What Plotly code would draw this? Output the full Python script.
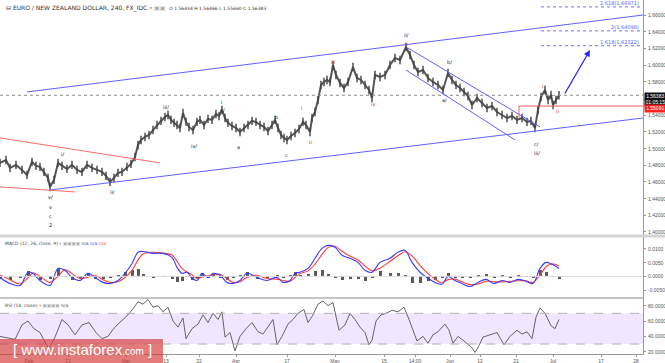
import plotly.graph_objects as go

W, H = 665, 363
PLOT_R = 643  # right edge of panes (px)

# ---------------- data ----------------
bar = [0, 6, 10, 16, 22, 27, 32, 36, 40, 44, 48, 50, 54, 58, 62, 67, 72, 77, 82, 87, 92, 97, 102, 106, 110, 114,
       118, 122, 127, 131, 135, 138, 141, 145, 149, 153, 157, 161, 165, 168, 171, 174, 177, 180, 183, 186, 189,
       193, 197, 200, 204, 208, 212, 216, 219, 222, 225, 228, 232, 236, 240, 244, 248, 252, 256, 260, 264, 268,
       272, 275, 278, 281, 284, 287, 291, 295, 299, 303, 306, 310, 312, 315, 318, 321, 324, 327, 330, 333, 336,
       340, 344, 348, 353, 357, 361, 365, 369, 372, 375, 380, 385, 390, 395, 400, 406, 410, 414, 418, 423, 428,
       433, 438, 443, 448, 452, 456, 460, 464, 468, 472, 477, 482, 487, 492, 497, 502, 507, 512, 517, 522, 527,
       531, 535, 538, 541, 545, 548, 551, 553, 556, 559]
close = [1.4828, 1.4863, 1.4768, 1.4804, 1.4744, 1.4684, 1.4840, 1.4792, 1.4780, 1.4720, 1.4648, 1.4540, 1.4624,
         1.4828, 1.4792, 1.4756, 1.4804, 1.4744, 1.4720, 1.4804, 1.4768, 1.4744, 1.4720, 1.4672, 1.4600, 1.4648,
         1.4708, 1.4720, 1.4780, 1.4816, 1.4899, 1.5043, 1.5103, 1.5139, 1.5163, 1.5223, 1.5283, 1.5331, 1.5378,
         1.5402, 1.5343, 1.5307, 1.5283, 1.5247, 1.5426, 1.5319, 1.5259, 1.5223, 1.5319, 1.5343, 1.5283, 1.5355,
         1.5343, 1.5414, 1.5390, 1.5462, 1.5366, 1.5307, 1.5271, 1.5247, 1.5199, 1.5247, 1.5283, 1.5331, 1.5319,
         1.5283, 1.5259, 1.5211, 1.5283, 1.5343, 1.5247, 1.5163, 1.5127, 1.5103, 1.5151, 1.5187, 1.5235, 1.5319,
         1.5283, 1.5199, 1.5366, 1.5438, 1.5582, 1.5762, 1.5798, 1.5822, 1.5798, 1.6001, 1.5881, 1.5786, 1.5726,
         1.5798, 1.5977, 1.5846, 1.5822, 1.5762, 1.5702, 1.5606, 1.5881, 1.5857, 1.5881, 1.6001, 1.6085, 1.6061,
         1.6217, 1.6121, 1.6001, 1.5917, 1.5941, 1.5846, 1.5798, 1.5762, 1.5702, 1.5905, 1.5822, 1.5762, 1.5726,
         1.5678, 1.5630, 1.5522, 1.5606, 1.5546, 1.5486, 1.5510, 1.5438, 1.5402, 1.5366, 1.5390, 1.5343, 1.5366,
         1.5319, 1.5331, 1.5247, 1.5462, 1.5618, 1.5702, 1.5582, 1.5642, 1.5522, 1.5582, 1.56383]

macd_bar = [0, 10, 20, 28, 33, 40, 50, 58, 65, 72, 80, 88, 95, 103, 110, 118, 125, 132, 138, 143, 153, 163, 172,
            177, 182, 187, 192, 197, 202, 208, 213, 220, 227, 233, 240, 247, 257, 267, 277, 283, 290, 295, 300,
            308, 315, 322, 328, 335, 342, 350, 358, 365, 372, 380, 390, 398, 405, 412, 420, 428, 435, 442, 448,
            455, 462, 470, 478, 486, 494, 502, 510, 518, 526, 533, 540, 546, 552, 559]
macd = [-0.0004, -0.0026, -0.0033, 0.0015, 0.0011, -0.0015, -0.0033, 0.0029, 0.0022, -0.0004, -0.0015, 0.0011,
        -0.0004, -0.0022, -0.0026, -0.0015, 0.0011, 0.0047, 0.0088, 0.0091, 0.0084, 0.0084, 0.0069, 0.0033, 0.0011,
        0.0015, -0.0007, -0.0015, 0.0011, -0.0004, 0.0011, 0.0004, -0.0022, -0.0026, -0.0015, 0.0011, -0.0004,
        -0.0015, -0.0004, -0.0022, -0.0015, 0.0011, 0.0015, 0.0029, 0.0066, 0.0102, 0.0113, 0.0106, 0.0077, 0.0066,
        0.0051, 0.0022, 0.0015, 0.0051, 0.0066, 0.0088, 0.0095, 0.0051, 0.0015, -0.0007, -0.0022, -0.0029, 0.0000,
        -0.0015, -0.0026, -0.0037, -0.0022, -0.0011, -0.0026, -0.0015, -0.0022, -0.0011, -0.0018, -0.0026, 0.0029,
        0.0051, 0.0044, 0.0029]
signal = [0.0005, -0.0012, -0.0028, -0.0005, 0.0012, 0.0000, -0.0022, 0.0000, 0.0024, 0.0010, -0.0008, -0.0003,
          0.0004, -0.0012, -0.0022, -0.0020, -0.0004, 0.0022, 0.0060, 0.0082, 0.0088, 0.0085, 0.0078, 0.0055, 0.0028,
          0.0016, 0.0006, -0.0008, -0.0003, 0.0002, 0.0004, 0.0008, -0.0008, -0.0022, -0.0020, -0.0004, 0.0004,
          -0.0008, -0.0010, -0.0015, -0.0018, -0.0004, 0.0010, 0.0020, 0.0045, 0.0080, 0.0105, 0.0110, 0.0092, 0.0074,
          0.0060, 0.0038, 0.0020, 0.0030, 0.0055, 0.0075, 0.0090, 0.0075, 0.0040, 0.0010, -0.0010, -0.0024, -0.0012,
          -0.0010, -0.0020, -0.0030, -0.0028, -0.0018, -0.0020, -0.0020, -0.0018, -0.0016, -0.0016, -0.0022, 0.0005,
          0.0035, 0.0046, 0.0038]

rsi_bar = [0, 8, 15, 22, 28, 34, 40, 46, 49, 55, 62, 68, 75, 82, 89, 96, 102, 108, 113, 118, 123, 128, 133, 138,
           143, 148, 153, 158, 163, 168, 173, 178, 183, 186, 192, 198, 203, 208, 213, 218, 222, 225, 230, 235, 240,
           246, 252, 258, 263, 268, 273, 277, 282, 288, 293, 298, 304, 308, 313, 318, 323, 328, 333, 339, 345, 350,
           355, 360, 365, 369, 372, 376, 381, 386, 392, 398, 404, 409, 414, 417, 423, 428, 433, 438, 445, 449, 453,
           458, 463, 468, 472, 475, 479, 483, 490, 497, 504, 510, 517, 522, 527, 532, 536, 540, 545, 551, 555, 559]
rsi = [40, 38, 36, 55, 60, 50, 45, 30, 24, 39, 62, 55, 42, 55, 58, 45, 37, 40, 49, 56, 62, 68, 76, 85, 82, 88, 78,
       80, 72, 78, 60, 52, 64, 37, 50, 56, 68, 58, 70, 62, 72, 39, 45, 21, 40, 50, 58, 46, 43, 52, 62, 29, 40, 56,
       62, 70, 75, 58, 68, 82, 86, 80, 84, 48, 55, 70, 62, 52, 45, 29, 35, 60, 68, 70, 74, 72, 78, 62, 45, 34, 40,
       31, 42, 46, 56, 48, 31, 40, 35, 29, 25, 19, 28, 39, 42, 45, 29, 40, 48, 43, 46, 37, 65, 77, 70, 54, 50, 62]

tick_pos = [29, 68, 126, 166, 199, 236, 287, 335, 384, 415, 450, 480, 516, 553, 601, 636]
tick_txt = ["Feb", "13", "Mar", "13", "22", "Apr", "17", "May", "15", "14:00", "Jun", "12", "21", "Jul", "17", "28"]

price_ticks = [1.40, 1.42, 1.44, 1.46, 1.48, 1.50, 1.52, 1.54, 1.58, 1.60, 1.62, 1.64, 1.66]
macd_ticks = [-0.005, 0.0, 0.005, 0.01]
rsi_ticks = [20, 40, 60, 80]

last_price = 1.56383
red_level = 1.55091
fib_levels = [1.66971, 1.64098, 1.62322]
fib_names = ["2.618(1.66971)", "2(1.64098)", "1.618(1.62322)"]

# trendlines: (bar0, price0, bar1, price1)
blue_lines = [(27, 1.5678, 643, 1.6600), (50, 1.4504, 643, 1.5366),
              (408, 1.6205, 540, 1.5259), (406, 1.5941, 515, 1.5103)]
red_lines = [(0, 1.5127, 160, 1.4828), (0, 1.4540, 75, 1.4480)]
arrow = (564, 1.5642, 590, 1.6181)

# wave labels: (bar, price, text, colour-key)
labels = [(50, 1.4420, "v/", "k"), (50, 1.4300, "v", "k"), (50, 1.4192, "c", "k"), (50, 1.4085, "2", "k"),
          (62, 1.4935, "i/", "k"), (112, 1.4480, "ii/", "k"), (166, 1.5498, "iii/", "k"),
          (194, 1.5031, "iv/", "k"), (221, 1.5558, "i", "k"), (222, 1.5462, "v/", "k"),
          (238, 1.5019, "a", "k"), (276, 1.5379, "b", "k"), (286, 1.4924, "c", "k"),
          (301, 1.5486, "i", "r"), (310, 1.5079, "ii", "r"), (333, 1.6037, "iii", "r"),
          (373, 1.5534, "iv", "r"), (406, 1.6360, "ii/", "k"), (406, 1.6253, "v", "r"),
          (449, 1.6037, "b/", "k"), (444, 1.5582, "a/", "k"), (536, 1.5055, "c/", "k"),
          (537, 1.4948, "iii/", "k"), (542, 1.5749, "i", "r"), (557, 1.5450, "ii", "r")]

# ---------------- layout helpers ----------------
def py(px):  # paper y from pixel row
    return 1 - px / H

XD = PLOT_R / W
main_dom = [py(236), 1.0]
macd_dom = [py(298), py(236)]
rsi_dom = [py(354), py(298)]
MAIN_RNG = [1.3952, 1.678]
MACD_RNG = [-0.0079, 0.01474]
RSI_RNG = [17, 90]

fig = go.Figure()

fig.add_trace(go.Scatter(x=bar, y=close, mode="lines", line=dict(color="#555555", width=2.0),
                         xaxis="x", yaxis="y", hoverinfo="skip"))
fig.add_trace(go.Scatter(x=bar, y=close, mode="markers",
                         marker=dict(symbol="line-ns", size=6, line=dict(color="#444", width=1.4)),
                         xaxis="x", yaxis="y", hoverinfo="skip"))

hist = [m - s for m, s in zip(macd, signal)]
fig.add_trace(go.Bar(x=macd_bar, y=hist, marker=dict(color="#5a5a5a", line=dict(width=0)), width=3,
                     xaxis="x", yaxis="y2"))
fig.add_trace(go.Scatter(x=macd_bar, y=signal, mode="lines", line=dict(color="#ff3b3b", width=1.1, shape="spline"),
                         xaxis="x", yaxis="y2"))
fig.add_trace(go.Scatter(x=macd_bar, y=macd, mode="lines", line=dict(color="#3b3bff", width=1.1, shape="spline"),
                         xaxis="x", yaxis="y2"))
fig.add_trace(go.Scatter(x=rsi_bar, y=rsi, mode="lines", line=dict(color="#555555", width=0.9),
                         xaxis="x", yaxis="y3"))

shapes = []
shapes.append(dict(type="line", xref="x", yref="y", x0=0, x1=PLOT_R, y0=last_price, y1=last_price,
                   line=dict(color="#8a8a8a", width=1, dash="dot")))
shapes.append(dict(type="line", xref="x", yref="y", x0=519, x1=PLOT_R, y0=red_level, y1=red_level,
                   line=dict(color="#ff5a5a", width=1)))
shapes.append(dict(type="line", xref="x", yref="y", x0=519, x1=519, y0=red_level, y1=1.5370,
                   line=dict(color="#ff5a5a", width=1)))
for lv in fib_levels:
    shapes.append(dict(type="line", xref="x", yref="y", x0=541, x1=PLOT_R, y0=lv, y1=lv,
                       line=dict(color="#7070ff", width=1, dash="dot")))
for (a0, p0, a1, p1) in blue_lines:
    shapes.append(dict(type="line", xref="x", yref="y", x0=a0, x1=a1, y0=p0, y1=p1,
                       line=dict(color="#6060ff", width=1)))
for (a0, p0, a1, p1) in red_lines:
    shapes.append(dict(type="line", xref="x", yref="y", x0=a0, x1=a1, y0=p0, y1=p1,
                       line=dict(color="#ff6b6b", width=1)))
shapes.append(dict(type="rect", xref="x", yref="y3", x0=0, x1=PLOT_R, y0=30, y1=70,
                   fillcolor="rgba(225,200,255,0.45)", line=dict(width=0), layer="below"))
for lv in (30, 70):
    shapes.append(dict(type="line", xref="x", yref="y3", x0=0, x1=PLOT_R, y0=lv, y1=lv,
                       line=dict(color="#b0b0b0", width=1, dash="dash")))
shapes.append(dict(type="line", xref="x", yref="y2", x0=0, x1=PLOT_R, y0=0, y1=0,
                   line=dict(color="#dddddd", width=1)))
shapes.append(dict(type="line", xref="paper", yref="paper", x0=0, x1=1, y0=py(236), y1=py(236),
                   line=dict(color="#d4d4d4", width=3)))
shapes.append(dict(type="line", xref="paper", yref="paper", x0=0, x1=XD, y0=py(298), y1=py(298),
                   line=dict(color="#8c8c8c", width=1)))
shapes.append(dict(type="rect", xref="paper", yref="paper", x0=0, x1=163 / W, y0=0, y1=py(339),
                   fillcolor="rgba(214,60,60,0.68)", line=dict(width=0)))

ann = []
FONT = "DejaVu Sans"
TFONT = "Liberation Sans"
ann.append(dict(xref="paper", yref="paper", x=4 / W, y=py(8), xanchor="left", yanchor="middle", showarrow=False,
                text="⊟ EURO / NEW ZEALAND DOLLAR, 240, FX_IDC <span style='color:#aaa'>▾ ▣▣</span>  "
                     "<span style='font-size:4.5px'>O 1.56434 H 1.56466 L 1.55660 C 1.56383</span>",
                font=dict(family=FONT, size=6, color="#333")))
ann.append(dict(xref="paper", yref="paper", x=3 / W, y=py(243.5), xanchor="left", yanchor="middle", showarrow=False,
                text="MACD (12, 26, close, 9) <span style='color:#aaa'>▾ ▣▣▣▣</span> n/a "
                     "<span style='color:#3b3bff'>n/a</span> <span style='color:#ff3b3b'>n/a</span>",
                font=dict(family=FONT, size=4.5, color="#444")))
ann.append(dict(xref="paper", yref="paper", x=3 / W, y=py(305), xanchor="left", yanchor="middle", showarrow=False,
                text="RSI (14, close) <span style='color:#aaa'>▾ ▣▣▣▣</span> n/a",
                font=dict(family=FONT, size=4.5, color="#444")))
for (b, p, t, c) in labels:
    ann.append(dict(xref="x", yref="y", x=b, y=p, text=t, showarrow=False,
                    font=dict(family=FONT, size=5, color="#e02020" if c == "r" else "#222")))
for lv, nm in zip(fib_levels, fib_names):
    ann.append(dict(xref="x", yref="y", x=PLOT_R - 2, y=lv, text=nm, showarrow=False, xanchor="right",
                    yanchor="bottom", yshift=-1, font=dict(family=FONT, size=5, color="#6060ff")))
ann.append(dict(xref="x", yref="y", axref="x", ayref="y", x=arrow[2], y=arrow[3], ax=arrow[0], ay=arrow[1],
                showarrow=True, arrowhead=2, arrowsize=1, arrowwidth=1.3, arrowcolor="#2a2aff", text=""))

def tick_ann(yref, val, txt):
    return dict(xref="paper", yref=yref, x=(PLOT_R + 3) / W, y=val, xanchor="left", yanchor="middle",
                showarrow=False, text=txt, font=dict(family=TFONT, size=5, color="#555"))
for v in price_ticks:
    ann.append(tick_ann("y", v, f"{v:.5f}"))
for v in macd_ticks:
    ann.append(tick_ann("y2", v, f"{v:.4f}"))
for v in rsi_ticks:
    ann.append(tick_ann("y3", v, f"{v:.4f}"))

for prow, txt, bg in [(96, "1.56383", "#111"), (102.2, "01:05:15", "#111"), (108.6, "1.55091", "#ff2020")]:
    ann.append(dict(xref="paper", yref="paper", x=(PLOT_R + 1) / W, y=py(prow), xanchor="left",
                    yanchor="middle", showarrow=False, text=txt, bgcolor=bg, borderpad=0.3, height=6, width=20,
                    font=dict(family=TFONT, size=5, color="white")))
ann.append(dict(xref="paper", yref="paper", x=82 / W, y=py(349), xanchor="center", yanchor="middle",
                showarrow=False, text="[ www.instaforex<span style='font-size:10px'>.com</span> ]",
                font=dict(family="Liberation Sans", size=15, color="white")))

axis_common = dict(side="right", anchor="x", showticklabels=False, ticks="outside", ticklen=2, tickcolor="#999",
                   showgrid=False, zeroline=False, showline=True, linecolor="#999", automargin=False)
fig.update_layout(
    width=W, height=H, margin=dict(l=0, r=0, t=0, b=0), paper_bgcolor="white", plot_bgcolor="white",
    showlegend=False, bargap=0,
    shapes=shapes, annotations=ann,
    xaxis=dict(domain=[0, XD], range=[0, PLOT_R], anchor="y3", tickvals=tick_pos, ticktext=tick_txt,
               tickfont=dict(family=TFONT, size=5, color="#555"), ticks="outside", ticklen=2, tickcolor="#999",
               showgrid=False, zeroline=False, showline=True, linecolor="#999", automargin=False),
    yaxis=dict(domain=main_dom, range=MAIN_RNG, tickvals=price_ticks, **axis_common),
    yaxis2=dict(domain=macd_dom, range=MACD_RNG, tickvals=macd_ticks, **axis_common),
    yaxis3=dict(domain=rsi_dom, range=RSI_RNG, tickvals=rsi_ticks, **axis_common),
)

fig.write_html("out.html", config={"displayModeBar": False},
               post_script="document.body.style.margin='0px';document.body.style.overflow='hidden';")
